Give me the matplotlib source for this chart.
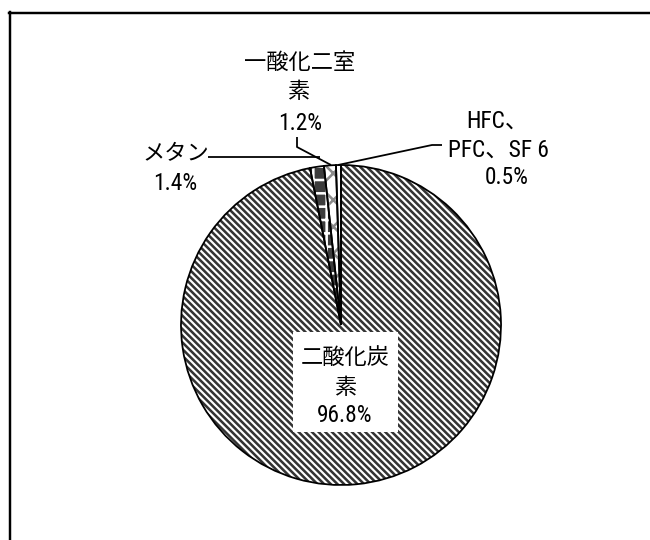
import matplotlib
matplotlib.use("Agg")
import matplotlib.pyplot as plt
from matplotlib import font_manager
from matplotlib.lines import Line2D
from matplotlib.patches import Rectangle

# Greenhouse gas emission shares (%)
gases = ["二酸化炭素", "メタン", "一酸化二室素", "HFC、PFC、SF 6"]
shares = [96.8, 1.4, 1.2, 0.5]
label_lines = [
    ["二酸化炭", "素", "96.8%"],
    ["メタン", "1.4%"],
    ["一酸化二室", "素", "1.2%"],
    ["HFC、", "PFC、SF 6", "0.5%"],
]

W, H, DPI = 650, 540, 80

# pick a narrow sans face for Latin text if one is available
ttf = font_manager.fontManager.ttflist
names = {f.name for f in ttf}
latin, stretch = "Liberation Sans", "normal"
for cand in ["Liberation Sans Narrow", "Arial Narrow", "Roboto Condensed",
             "Open Sans Condensed", "DejaVu Sans Condensed"]:
    if cand in names:
        latin = cand
        break
else:
    narrow = {"condensed", "semi-condensed", "extra-condensed"}
    for fam in ["Liberation Sans", "Roboto", "Open Sans", "DejaVu Sans", "Noto Sans"]:
        if any(f.name == fam and str(f.stretch) in narrow for f in ttf):
            latin, stretch = fam, "condensed"
            break

plt.rcParams["font.family"] = [latin, "Noto Sans CJK JP", "DejaVu Sans"]
plt.rcParams["font.stretch"] = stretch
plt.rcParams["hatch.linewidth"] = 2.3

fig = plt.figure(figsize=(W / DPI, H / DPI), dpi=DPI)
ax = fig.add_axes([0, 0, 1, 1])


def Y(y):
    # pixel row measured from the top -> data y
    return H - y


cx, cy, r = 341, 325, 160

# fills and hatches
fills = ["white", "#3c3c3c", "white", "white"]
hatch_cols = ["#333333", "white", "#8a8a8a", "white"]
hatches = ["\\\\\\\\", "+", "x", ""]
wedges, _ = ax.pie(shares, startangle=90, counterclock=False,
                   center=(cx, Y(cy)), radius=r, frame=True)
for w, fc, hc, hp in zip(wedges, fills, hatch_cols, hatches):
    w.set_facecolor(fc)
    w.set_edgecolor(hc)
    w.set_hatch(hp)
    w.set_linewidth(0)

# outlines
ax.pie(shares, startangle=90, counterclock=False, center=(cx, Y(cy)),
       radius=r, frame=True,
       wedgeprops=dict(fill=False, edgecolor="black", linewidth=1.6))

ax.set_xlim(0, W)
ax.set_ylim(0, H)
ax.set_aspect("equal")
ax.axis("off")

fs = 20
fs_num = 21

# CO2 label on a white box inside the pie
ax.add_patch(Rectangle((293, Y(432)), 105, 100, facecolor="white",
                       edgecolor="none", zorder=3))
for txt, (x, y), s in zip(label_lines[0], [(345, 358), (345, 388), (345, 416)],
                          [fs, fs, fs_num]):
    ax.text(x, Y(y), txt, ha="center", va="center", fontsize=s, zorder=4)

for txt, (x, y), s in zip(label_lines[1], [(176, 155), (175, 183)], [fs, fs_num]):
    ax.text(x, Y(y), txt, ha="center", va="center", fontsize=s)

for txt, (x, y), s in zip(label_lines[2], [(300, 63), (298, 93), (300, 123)],
                          [fs, fs, fs_num]):
    ax.text(x, Y(y), txt, ha="center", va="center", fontsize=s)

for txt, (x, y), s in zip(label_lines[3], [(497, 121), (498, 150), (507, 178)],
                          [fs_num, fs_num, fs_num]):
    ax.text(x, Y(y), txt, ha="center", va="center", fontsize=s)

# leader lines
lk = dict(color="black", linewidth=1.6, solid_capstyle="butt")
ax.plot([208, 320], [Y(157), Y(157)], **lk)
ax.plot([297, 297, 331], [Y(137), Y(147), Y(165)], **lk)
ax.plot([442, 432, 338], [Y(145), Y(145), Y(165)], **lk)

# chart area border (top and left edges visible)
fig.add_artist(Line2D([9 / W, 1], [1 - 12.5 / H, 1 - 12.5 / H],
                      color="black", linewidth=2.2))
fig.add_artist(Line2D([9.5 / W, 9.5 / W], [0, 1 - 11.5 / H],
                      color="black", linewidth=2.2))

fig.savefig("out.png", dpi=DPI, facecolor="white")
